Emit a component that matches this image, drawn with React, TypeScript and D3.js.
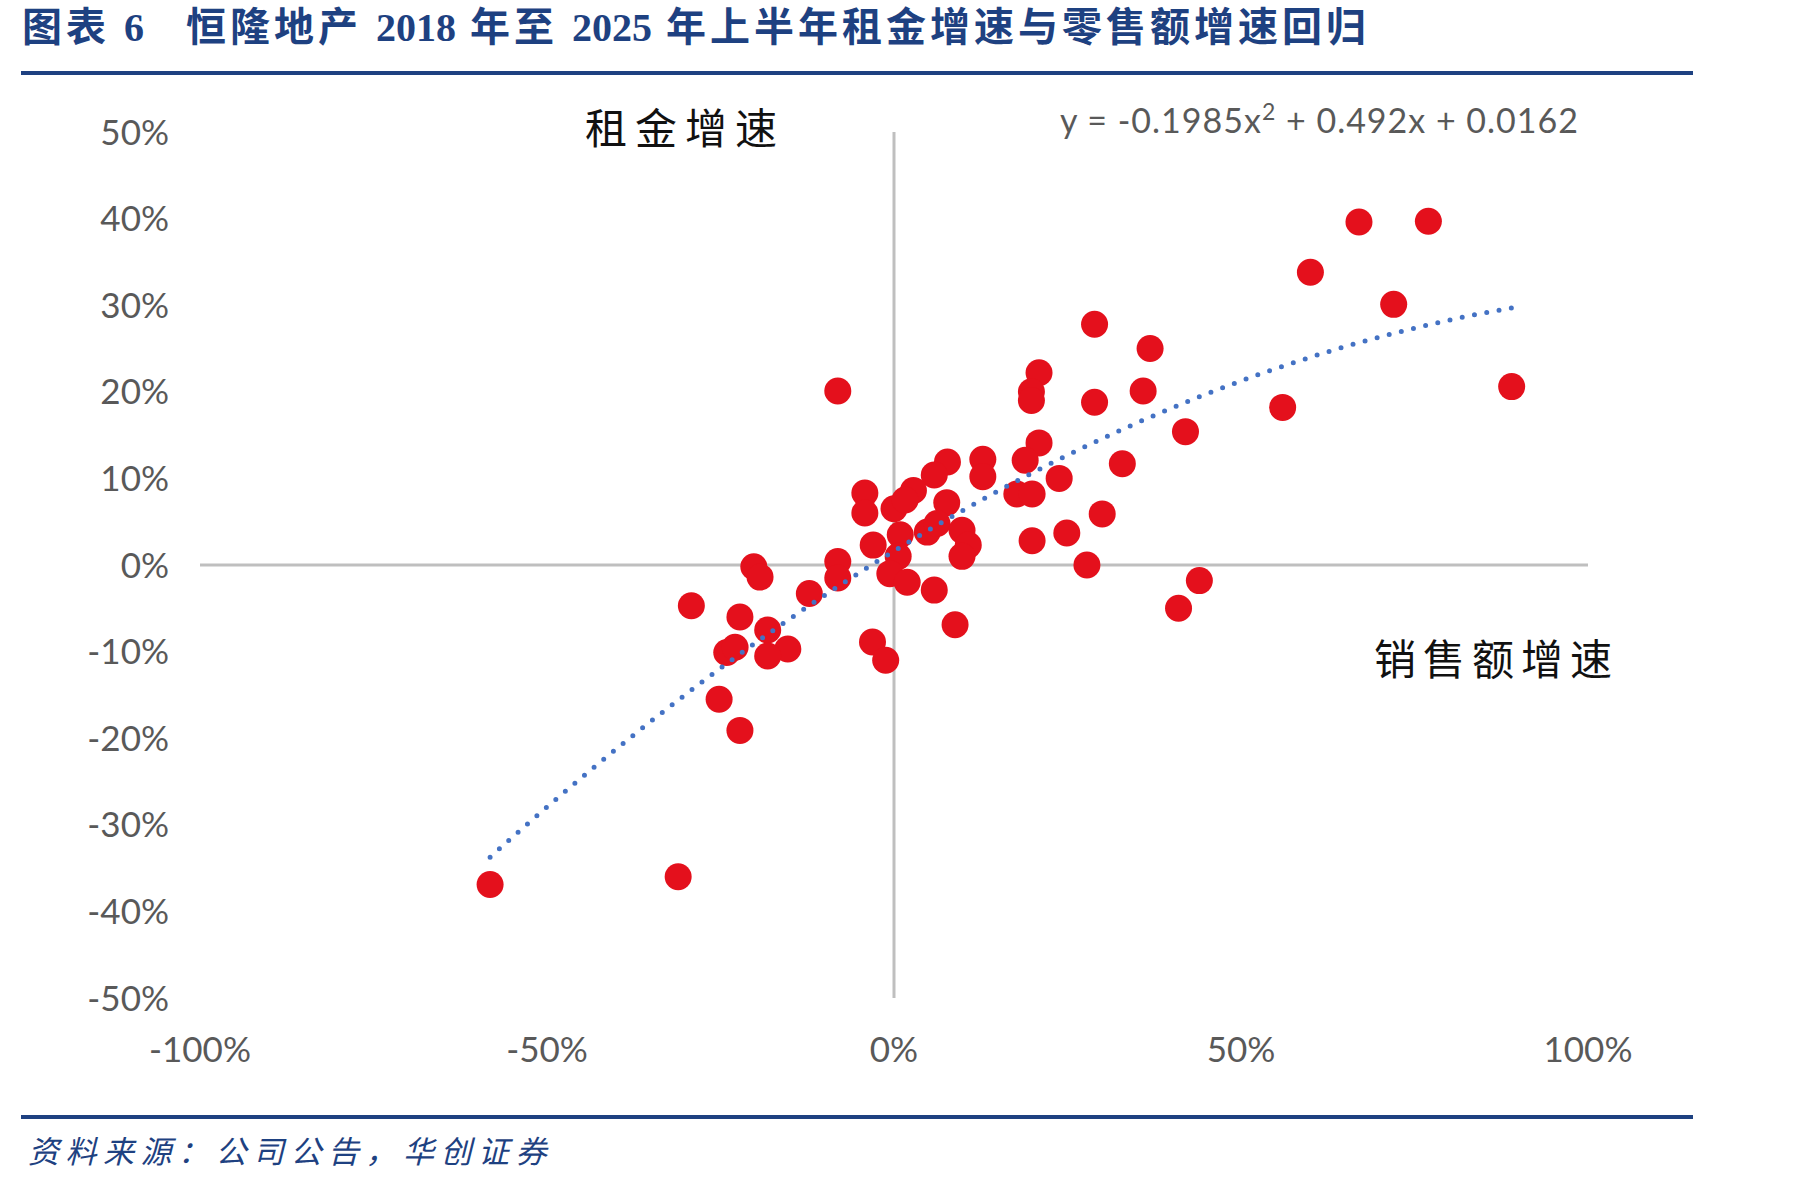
import React from 'react';
import * as d3 from 'd3';

// sales growth (x) and rent growth (y)
const salesGrowth = [
  0.67, 0.77, 0.6, 0.72, 0.89, 0.56, 0.42, 0.44, 0.41,
  0.289, 0.369, 0.209, 0.198, 0.198, 0.289, 0.359, 0.209, 0.189, 0.238, 0.329,
  0.177, 0.199, 0.199, 0.249, 0.3, 0.278,
  0.128, 0.128, 0.077, 0.058, 0.028, 0.0, 0.016, -0.042, -0.042, 0.076,
  0.048, 0.062, 0.098, 0.107, 0.098, -0.03, 0.009, 0.006, -0.006, 0.019,
  0.058, 0.088, -0.031, -0.012,
  -0.081, -0.081, -0.081, -0.202, -0.193, -0.122, -0.292, -0.222, -0.182,
  -0.153, -0.182, -0.241, -0.229, -0.252, -0.222, -0.582, -0.311,
];
const rentGrowth = [
  0.396, 0.397, 0.338, 0.301, 0.206, 0.182, 0.154, -0.018, -0.05,
  0.278, 0.25, 0.222, 0.2, 0.19, 0.188, 0.201, 0.141, 0.121, 0.1, 0.117,
  0.082, 0.082, 0.028, 0.037, 0.059, 0.0,
  0.122, 0.102, 0.119, 0.104, 0.086, 0.065, 0.075, 0.083, 0.06, 0.072,
  0.038, 0.048, 0.04, 0.023, 0.01, 0.023, 0.035, 0.01, -0.01, -0.02,
  -0.029, -0.069, -0.089, -0.11,
  0.201, 0.004, -0.015, -0.002, -0.014, -0.033, -0.047, -0.06, -0.075,
  -0.097, -0.105, -0.101, -0.095, -0.155, -0.191, -0.369, -0.36,
];

// quadratic trend y = a x^2 + b x + c (Excel)
const trendCoef = [-0.1985, 0.492, 0.0162];

const xTicks = [-1, -0.5, 0, 0.5, 1];
const yTicks = [0.5, 0.4, 0.3, 0.2, 0.1, 0, -0.1, -0.2, -0.3, -0.4, -0.5];

// title pieces: CJK runs get wider tracking than the digit runs
const titleParts = ['图表 ', '6', '   恒隆地产 ', '2018', ' 年至 ', '2025', ' 年上半年租金增速与零售额增速回归'];

const W = 1801;
const H = 1185;
const BLUE = '#1E4181';
const TICK_FONT = 'Lato, "Open Sans", sans-serif';
const CJK = '"Noto Sans CJK SC", sans-serif';

// plain hyphen minus, like Excel
const pct = (v: number) => `${Math.round(v * 100)}%`;

export default function App() {
  const x = d3.scaleLinear().domain([-1, 1]).range([200, 1588]);
  const y = d3.scaleLinear().domain([-0.5, 0.5]).range([998, 132]);

  const pts = salesGrowth.map((s, i) => ({ s, r: rentGrowth[i] }));

  const [a, b, c] = trendCoef;
  const [x0, x1] = d3.extent(salesGrowth) as [number, number];
  const trend = d3.range(0, 101).map((k) => {
    const t = x0 + ((x1 - x0) * k) / 100;
    return [t, a * t * t + b * t + c] as [number, number];
  });
  const line = d3
    .line<[number, number]>()
    .x((d) => x(d[0]))
    .y((d) => y(d[1]));

  return (
    <svg
      width={W}
      height={H}
      style={{ position: 'absolute', left: 0, top: 0, display: 'block', background: '#fff' }}
    >
      {/* title */}
      <text
        x={22}
        y={41}
        fill={BLUE}
        fontSize={40}
        fontWeight="bold"
        fontFamily={'"Liberation Serif", "Noto Sans CJK SC", serif'}
        style={{ whiteSpace: 'pre' }}
      >
        {titleParts.map((p, i) => (
          <tspan key={i} letterSpacing={/\d/.test(p) ? 0 : 4}>
            {p}
          </tspan>
        ))}
      </text>
      <rect x={21} y={71} width={1672} height={4} fill={BLUE} />

      {/* axes */}
      <line x1={x(-1)} x2={x(1)} y1={y(0)} y2={y(0)} stroke="#BFBFBF" strokeWidth={3} />
      <line x1={x(0)} x2={x(0)} y1={y(0.5)} y2={y(-0.5)} stroke="#BFBFBF" strokeWidth={3} />

      {yTicks.map((t) => (
        <text
          key={'y' + t}
          x={169}
          y={y(t)}
          dy="0.36em"
          textAnchor="end"
          fill="#595959"
          fontSize={35}
          fontFamily={TICK_FONT}
        >
          {pct(t)}
        </text>
      ))}
      {xTicks.map((t) => (
        <text
          key={'x' + t}
          x={x(t)}
          y={1062}
          textAnchor="middle"
          fill="#595959"
          fontSize={35}
          fontFamily={TICK_FONT}
        >
          {pct(t)}
        </text>
      ))}

      {/* points */}
      {pts.map((p, i) => (
        <circle key={i} cx={x(p.s)} cy={y(p.r)} r={13.5} fill="#E4101C" />
      ))}

      {/* trend line */}
      <path
        d={line(trend) || ''}
        fill="none"
        stroke="#4472C4"
        strokeWidth={5}
        strokeLinecap="round"
        strokeDasharray="0 12.5"
      />

      {/* equation */}
      <text
        x={1579}
        y={133}
        textAnchor="end"
        fill="#595959"
        fontSize={34}
        letterSpacing={1}
        fontFamily={TICK_FONT}
        style={{ whiteSpace: 'pre' }}
      >
        <tspan>y = -0.1985x</tspan>
        <tspan fontSize={23} dy={-13}>2</tspan>
        <tspan dy={13}> + 0.492x + 0.0162</tspan>
      </text>

      {/* axis captions */}
      <text x={585} y={144} fill="#111" fontSize={42} fontFamily={CJK} letterSpacing={8}>
        租金增速
      </text>
      <text x={1374} y={675} fill="#111" fontSize={42} fontFamily={CJK} letterSpacing={7}>
        销售额增速
      </text>

      {/* source */}
      <rect x={21} y={1115} width={1672} height={4} fill={BLUE} />
      <text
        x={28}
        y={1163}
        fill={BLUE}
        fontSize={31}
        fontStyle="italic"
        fontFamily={CJK}
        letterSpacing={6.5}
      >
        资料来源：公司公告，华创证券
      </text>
    </svg>
  );
}
